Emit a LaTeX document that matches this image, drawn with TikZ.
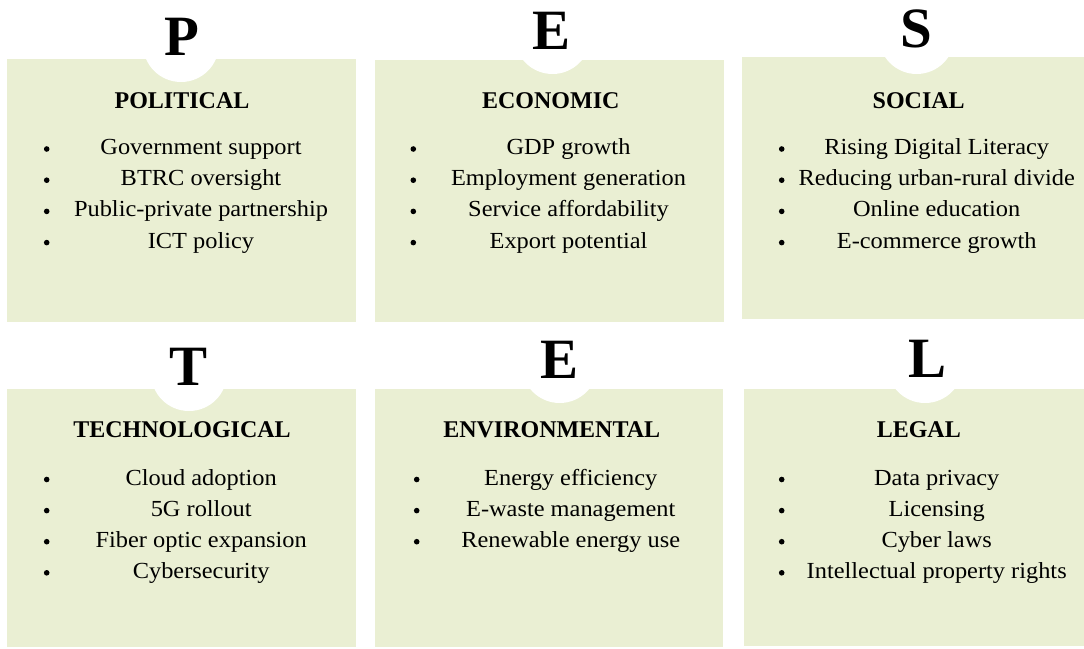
\documentclass[tikz,border=0pt]{standalone}
\usepackage{fontspec}
\setmainfont{Liberation Serif}
\newfontfamily\bodyfont[FakeStretch=1.06]{Liberation Serif}
\definecolor{panelfill}{RGB}{234,239,211}

\tikzset{
  panel/.style={fill=panelfill, draw=none, inner sep=0pt, outer sep=0pt, anchor=north west},
  notch/.style={circle, fill=white, draw=none, inner sep=0pt, minimum size=76pt},
  letter/.style={anchor=base, inner sep=0pt, font=\fontsize{57}{57}\selectfont\bfseries},
  heading/.style={anchor=base, inner sep=0pt, font=\fontsize{24}{24}\selectfont\bfseries},
  itemtext/.style={anchor=base, inner sep=0pt, font=\fontsize{23}{23}\selectfont\bodyfont},
  bulletdot/.style={circle, fill=black, draw=none, inner sep=0pt, minimum size=5.6pt},
}

\begin{document}
\begin{tikzpicture}[x=1pt, y=-1pt]
  \useasboundingbox (0,0) rectangle (1084,648);
  \clip (0,0) rectangle (1084,648);
  \fill[white] (0,0) rectangle (1084,648);

  % ---------- panels ----------
  \node[panel, minimum width=349pt, minimum height=263pt] (p-box) at (7,59) {};
  \node[panel, minimum width=349pt, minimum height=262pt] (e-box) at (375,60) {};
  \node[panel, minimum width=349pt, minimum height=262pt] (s-box) at (742,57.3) {};
  \node[panel, minimum width=349pt, minimum height=258pt] (t-box) at (7,389) {};
  \node[panel, minimum width=348pt, minimum height=258pt] (v-box) at (375,389) {};
  \node[panel, minimum width=349pt, minimum height=257pt] (l-box) at (744,389) {};

  % ---------- round notches ----------
  \node[notch] (p-notch) at (181,44) {};
  \node[notch] (e-notch) at (552.5,36) {};
  \node[notch] (s-notch) at (916.7,36) {};
  \node[notch] (t-notch) at (189,373) {};
  \node[notch] (v-notch) at (559.7,365) {};
  \node[notch] (l-notch) at (925,365) {};

  % ---------- big letters ----------
  \node[letter] (p-letter) at (181.5,55) {P};
  \node[letter] (e-letter) at (551.5,49.3) {E};
  \node[letter] (s-letter) at (916.5,47.5) {S};
  \node[letter] (t-letter) at (189,385) {T};
  \node[letter] (v-letter) at (560,378) {E};
  \node[letter] (l-letter) at (927,377) {L};

  % ---------- headings ----------
  \node[heading] (p-title) at (182,108.3) {POLITICAL};
  \node[heading] (e-title) at (550.8,108.3) {ECONOMIC};
  \node[heading] (s-title) at (918.7,108.3) {SOCIAL};
  \node[heading] (t-title) at (182,437.3) {TECHNOLOGICAL};
  \node[heading] (v-title) at (551.7,437.3) {ENVIRONMENTAL};
  \node[heading] (l-title) at (918.8,437.3) {LEGAL};

  % ---------- bullet lists ----------
  \foreach \t [count=\i] in {Government support, BTRC oversight, Public-private partnership, ICT policy} {
    \node[itemtext] (p-item\i) at (201, {154.5+31.2*(\i-1)}) {\t};
    \node[bulletdot] (p-dot\i) at (46.7, {149+31.2*(\i-1)}) {};
  }
  \foreach \t [count=\i] in {GDP growth, Employment generation, Service affordability, Export potential} {
    \node[itemtext] (e-item\i) at (568.5, {154.5+31.2*(\i-1)}) {\t};
    \node[bulletdot] (e-dot\i) at (413.3, {149+31.2*(\i-1)}) {};
  }
  \foreach \t [count=\i] in {Rising Digital Literacy, Reducing urban-rural divide, Online education, E-commerce growth} {
    \node[itemtext] (s-item\i) at (936.7, {154.5+31.2*(\i-1)}) {\t};
    \node[bulletdot] (s-dot\i) at (781.7, {149+31.2*(\i-1)}) {};
  }
  \foreach \t [count=\i] in {Cloud adoption, 5G rollout, Fiber optic expansion, Cybersecurity} {
    \node[itemtext] (t-item\i) at (201.2, {485+31.1*(\i-1)}) {\t};
    \node[bulletdot] (t-dot\i) at (46.7, {479.5+31.1*(\i-1)}) {};
  }
  \foreach \t [count=\i] in {Energy efficiency, E-waste management, Renewable energy use} {
    \node[itemtext] (v-item\i) at (570.7, {485+31.1*(\i-1)}) {\t};
    \node[bulletdot] (v-dot\i) at (416.7, {479.5+31.1*(\i-1)}) {};
  }
  \foreach \t [count=\i] in {Data privacy, Licensing, Cyber laws, Intellectual property rights} {
    \node[itemtext] (l-item\i) at (936.7, {485+31.1*(\i-1)}) {\t};
    \node[bulletdot] (l-dot\i) at (781.7, {479.5+31.1*(\i-1)}) {};
  }
\end{tikzpicture}
\end{document}
